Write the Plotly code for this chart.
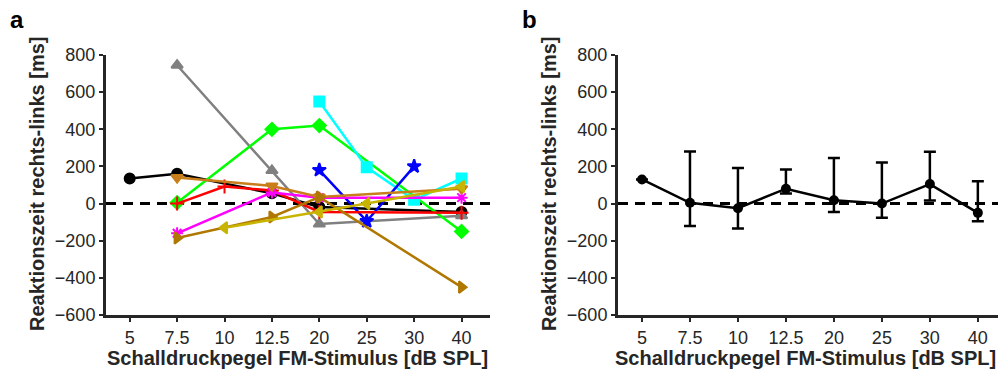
import plotly.graph_objects as go

levels = ["5", "7.5", "10", "12.5", "20", "25", "30", "40"]

# Panel a: individual subjects (None = not measured)
s_black   = [135, 160, None, 55, -18, None, None, -45]
s_gray    = [None, 745, None, 178, -110, None, None, -65]
s_green   = [None, 5, None, 400, 420, None, None, -150]
s_cyan    = [None, None, None, None, 550, 195, 20, 135]
s_blue    = [None, None, None, None, 180, -95, 200, None]
s_red     = [None, 0, 92, 70, -45, None, None, -50]
s_magenta = [None, -160, None, 60, 32, None, None, 32]
s_orange  = [None, 140, None, 95, 35, None, None, 80]
s_brown   = [None, -185, None, -72, 35, None, None, -450]
s_olive   = [None, None, -130, None, -45, 0, None, 92]

# Panel b: mean with asymmetric error bars
mean_b  = [130, 4, -25, 80, 18, 0, 105, -50]
upper_b = [None, 280, 192, 183, 245, 221, 279, 120]
lower_b = [None, -121, -134, 54, -46, -77, 16, -95]

series = [
    (s_black, "#000000", "circle"),
    (s_gray, "#808080", "triangle-up"),
    (s_green, "#00FF00", "diamond"),
    (s_cyan, "#00FFFF", "square"),
    (s_blue, "#0000FF", "star"),
    (s_red, "#FF0000", "cross-thin-open"),
    (s_magenta, "#FF00FF", "asterisk-open"),
    (s_orange, "#C87E1A", "triangle-down"),
    (s_brown, "#B07800", "triangle-right"),
    (s_olive, "#C8B400", "triangle-left"),
]

fig = go.Figure()
for vals, col, sym in series:
    fig.add_trace(go.Scatter(
        x=levels, y=vals, mode="lines+markers", connectgaps=True,
        line=dict(color=col, width=2.5),
        marker=dict(symbol=sym, size=10, color=col, line=dict(color=col, width=2)),
        xaxis="x", yaxis="y", showlegend=False, cliponaxis=False))

err_plus = [None if u is None else u - m for u, m in zip(upper_b, mean_b)]
err_minus = [None if l is None else m - l for l, m in zip(lower_b, mean_b)]
fig.add_trace(go.Scatter(
    x=levels, y=mean_b, mode="lines+markers",
    line=dict(color="black", width=2.5),
    marker=dict(symbol="circle", size=10, color="black"),
    error_y=dict(type="data", symmetric=False, array=err_plus, arrayminus=err_minus,
                 color="black", thickness=2.5, width=6),
    xaxis="x2", yaxis="y2", showlegend=False))

W, H = 998, 379
def px(x): return x / W
def py(y): return 1 - y / H

axis_common = dict(showline=True, linecolor="#262626", linewidth=3, ticks="outside",
                   ticklen=4, tickwidth=2, tickcolor="#262626", showgrid=False, zeroline=False,
                   automargin=False,
                   tickfont=dict(family="Liberation Sans, Arial", size=18, color="#262626"))

fig.update_layout(
    width=W, height=H, margin=dict(l=0, r=0, t=0, b=0, pad=0, autoexpand=False),
    plot_bgcolor="white", paper_bgcolor="white",
    xaxis=dict(domain=[px(106), px(490)], type="category", categoryorder="array",
               categoryarray=levels, range=[-0.5, 7.6], anchor="y", **axis_common),
    yaxis=dict(domain=[py(315), py(55)], range=[-600, 800], tickvals=list(range(-600, 801, 200)),
               anchor="x", **axis_common),
    xaxis2=dict(domain=[px(618), 1.0], type="category", categoryorder="array",
                categoryarray=levels, range=[-0.5, 7.42], anchor="y2", **axis_common),
    yaxis2=dict(domain=[py(315), py(55)], range=[-600, 800], tickvals=list(range(-600, 801, 200)),
                anchor="x2", **axis_common),
)

for xr in ["x", "x2"]:
    fig.add_shape(type="line", xref=f"{xr} domain", yref="y" if xr == "x" else "y2",
                  x0=0, x1=1, y0=0, y1=0, layer="below",
                  line=dict(color="black", width=3, dash="10px,7px"))

title_font = dict(family="Liberation Sans, Arial", size=20, color="#262626")
xt = "<b>Schalldruckpegel FM-Stimulus [dB SPL]</b>"
yt = "<b>Reaktionszeit rechts-links [ms]</b>"
for cx, yx in [(297, 37), (805, 549)]:
    fig.add_annotation(text=xt, x=px(cx), y=py(358), xref="paper", yref="paper",
                       showarrow=False, font=title_font, xanchor="center", yanchor="middle")
    fig.add_annotation(text=yt, x=px(yx), y=py(184), xref="paper", yref="paper",
                       showarrow=False, font=title_font, textangle=-90,
                       xanchor="center", yanchor="middle")

for lab, x in [("a", 17), ("b", 529)]:
    fig.add_annotation(text=f"<b>{lab}</b>", x=px(x), y=py(20), xref="paper", yref="paper",
                       showarrow=False, font=dict(family="Liberation Sans, Arial", size=24, color="black"),
                       xanchor="center", yanchor="middle")

fig.write_html("out.html", config={"displayModeBar": False},
               post_script="document.body.style.margin='0';")
